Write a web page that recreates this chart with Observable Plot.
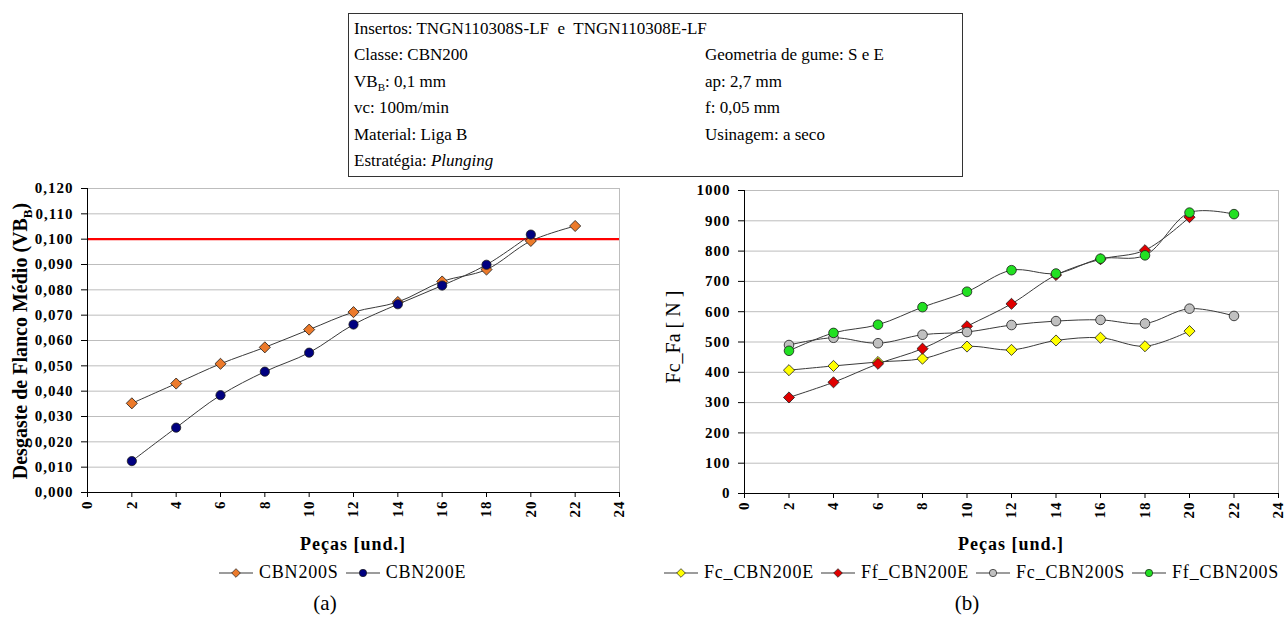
<!DOCTYPE html>
<html>
<head>
<meta charset="utf-8">
<script src="https://cdn.jsdelivr.net/npm/d3@7"></script>
<script src="https://cdn.jsdelivr.net/npm/@observablehq/plot@0.6"></script>
<style>
  html, body { margin: 0; padding: 0; background: #fff; }
  body { width: 1288px; height: 619px; position: relative; overflow: hidden;
         font-family: "Liberation Serif", "Times New Roman", serif; color: #000; }
  .abs { position: absolute; }
  #info { left: 348px; top: 13px; width: 615px; height: 164px; border: 1.5px solid #333;
          box-sizing: border-box; font-size: 17px; }
  #info .row { position: absolute; height: 26px; line-height: 26px; white-space: nowrap; }
  .ytitle { white-space: nowrap; transform: translate(-50%, -50%) rotate(-90deg); }
  .xtitle { white-space: nowrap; transform: translate(-50%, -50%); font-weight: bold;
            font-size: 18px; letter-spacing: 1px; }
  .legend { display: flex; align-items: center; font-size: 18px; letter-spacing: 0.8px; white-space: nowrap; }
  .legend .item { display: flex; align-items: center; margin-right: 6px; }
  .legend svg { margin-right: 5px; }
  .cap { font-size: 21px; transform: translate(-50%, -50%); }
  svg.chart text { font-family: "Liberation Serif", "Times New Roman", serif; }
</style>
</head>
<body>
<div id="info" class="abs"></div>
<div id="leftChart" class="abs" style="left:0px; top:170px;"></div>
<div id="rightChart" class="abs" style="left:640px; top:170px;"></div>
<div class="abs ytitle" style="left:22px; top:341px; font-weight:bold; font-size:20px;">Desgaste de Flanco Médio (VB<sub style="font-size:13px">B</sub>)</div>
<div class="abs ytitle" style="left:673px; top:337px; font-size:20px;">Fc_Fa [ N ]</div>
<div class="abs xtitle" style="left:353px; top:544px;">Peças [und.]</div>
<div class="abs xtitle" style="left:1011px; top:544px;">Peças [und.]</div>
<div id="legendA" class="abs legend" style="left:218px; top:562px;"></div>
<div id="legendB" class="abs legend" style="left:663px; top:562px;"></div>
<div class="abs cap" style="left:325px; top:603px;">(a)</div>
<div class="abs cap" style="left:967px; top:603px;">(b)</div>
<script>
// ---------- Data ----------
const pecasA = [2, 4, 6, 8, 10, 12, 14, 16, 18, 20, 22];
const cbn200S = [0.0352, 0.0430, 0.0508, 0.0573, 0.0643, 0.0712, 0.0752, 0.0833, 0.0880, 0.0993, 0.1052];
const pecasAE = [2, 4, 6, 8, 10, 12, 14, 16, 18, 20];
const cbn200E = [0.0124, 0.0256, 0.0384, 0.0477, 0.0552, 0.0663, 0.0743, 0.0817, 0.0899, 0.1018];
const limiteVB = 0.1;

const pecasB20 = [2, 4, 6, 8, 10, 12, 14, 16, 18, 20];
const pecasB22 = [2, 4, 6, 8, 10, 12, 14, 16, 18, 20, 22];
const fcCBN200E = [407, 421, 434, 445, 485, 474, 505, 514, 486, 536];
const ffCBN200E = [317, 367, 428, 478, 552, 626, 721, 773, 803, 912];
const fcCBN200S = [490, 514, 496, 524, 533, 556, 569, 573, 561, 610, 586];
const ffCBN200S = [471, 530, 557, 615, 666, 737, 726, 775, 786, 927, 922];

const xTicks = [0, 2, 4, 6, 8, 10, 12, 14, 16, 18, 20, 22, 24];
const yTicksA = [0, 0.01, 0.02, 0.03, 0.04, 0.05, 0.06, 0.07, 0.08, 0.09, 0.10, 0.11, 0.12];
const yTicksB = [0, 100, 200, 300, 400, 500, 600, 700, 800, 900, 1000];

const info = [
  ["Insertos: TNGN110308S-LF&nbsp; e&nbsp; TNGN110308E-LF", ""],
  ["Classe: CBN200", "Geometria de gume: S e E"],
  ["VB<sub style='font-size:11px'>B</sub>: 0,1 mm", "ap: 2,7 mm"],
  ["vc: 100m/min", "f: 0,05 mm"],
  ["Material: Liga B", "Usinagem: a seco"],
  ["Estratégia: <i>Plunging</i>", ""]
];

// ---------- Info box ----------
const infoBox = document.getElementById("info");
info.forEach(([a, b], i) => {
  const top = 2 + i * 26.4;
  const r1 = document.createElement("div");
  r1.className = "row"; r1.style.left = "5px"; r1.style.top = top + "px"; r1.innerHTML = a;
  infoBox.appendChild(r1);
  if (b) {
    const r2 = document.createElement("div");
    r2.className = "row"; r2.style.left = "356px"; r2.style.top = top + "px"; r2.innerHTML = b;
    infoBox.appendChild(r2);
  }
});

// ---------- Helpers ----------
const grid = "#bdbdbd";
const lineColor = "#3a3a3a";
const FONT = "Liberation Serif, Times New Roman, serif";
const styleStr = "font-family: 'Liberation Serif', 'Times New Roman', serif; font-size: 15px; font-weight: bold; color: #000; background: transparent; overflow: visible; letter-spacing: 1px;";
const tickText = {fontFamily: FONT, fontSize: 15, fontWeight: "bold"};
function series(xs, ys) { return xs.map((x, i) => ({x, y: ys[i]})); }
function seriesMarks(data, symbol, fill, r) {
  return [
    Plot.line(data, {x: "x", y: "y", curve: "catmull-rom", stroke: lineColor, strokeWidth: 1}),
    Plot.dot(data, {x: "x", y: "y", symbol, r, fill, stroke: "#1a1a1a", strokeWidth: 0.8})
  ];
}

// ---------- Chart (a) ----------
const fmtA = d => d.toFixed(3).replace(".", ",");
const dataS = series(pecasA, cbn200S);
const dataE = series(pecasAE, cbn200E);
const chartA = Plot.plot({
  className: "chart",
  width: 640, height: 390,
  marginLeft: 87, marginRight: 21, marginTop: 18, marginBottom: 68,
  style: styleStr,
  x: {domain: [0, 24]},
  y: {domain: [0, 0.12]},
  marks: [
    Plot.gridY(yTicksA, {stroke: grid, strokeOpacity: 1}),
    Plot.ruleX([24], {stroke: grid}),
    Plot.ruleY([limiteVB], {stroke: "#ff0000", strokeWidth: 2.2}),
    ...seriesMarks(dataS, "diamond2", "#ec7a2b", 5),
    ...seriesMarks(dataE, "circle", "#000080", 4.6),
    Plot.ruleX([0], {stroke: "#000"}),
    Plot.ruleY([0], {stroke: "#000"}),
    Plot.axisX(xTicks, {tickRotate: -90, tickSize: 5, tickPadding: 3, label: null, ...tickText}),
    Plot.axisY(yTicksA, {tickSize: 6, tickPadding: 8, tickFormat: fmtA, label: null, ...tickText})
  ]
});
chartA.classList.add("chart");
document.getElementById("leftChart").appendChild(chartA);

// ---------- Chart (b) ----------
const chartB = Plot.plot({
  className: "chart",
  width: 648, height: 390,
  marginLeft: 104, marginRight: 10, marginTop: 20, marginBottom: 67,
  style: styleStr,
  x: {domain: [0, 24]},
  y: {domain: [0, 1000]},
  marks: [
    Plot.gridY(yTicksB, {stroke: grid, strokeOpacity: 1}),
    Plot.ruleX([24], {stroke: grid}),
    ...seriesMarks(series(pecasB20, fcCBN200E), "diamond2", "#ffff00", 5),
    ...seriesMarks(series(pecasB20, ffCBN200E), "diamond2", "#e00000", 5),
    ...seriesMarks(series(pecasB22, fcCBN200S), "circle", "#c0c0c0", 4.8),
    ...seriesMarks(series(pecasB22, ffCBN200S), "circle", "#22e022", 4.8),
    Plot.ruleX([0], {stroke: "#000"}),
    Plot.ruleY([0], {stroke: "#000"}),
    Plot.axisX(xTicks, {tickRotate: -90, tickSize: 5, tickPadding: 3, label: null, ...tickText}),
    Plot.axisY(yTicksB, {tickSize: 6, tickPadding: 8, tickFormat: d => String(d), label: null, ...tickText})
  ]
});
chartB.classList.add("chart");
document.getElementById("rightChart").appendChild(chartB);

// ---------- Legends ----------
function addLegend(id, items) {
  const root = d3.select("#" + id);
  items.forEach(({name, symbol, fill}) => {
    const it = root.append("div").attr("class", "item");
    const svg = it.append("svg").attr("width", 36).attr("height", 16);
    svg.append("line").attr("x1", 1).attr("x2", 35).attr("y1", 8).attr("y2", 8)
      .attr("stroke", lineColor).attr("stroke-width", 1.2);
    const path = d3.symbol(symbol === "circle" ? d3.symbolCircle : d3.symbolDiamond2,
                           symbol === "circle" ? 42 : 48)();
    svg.append("path").attr("d", path).attr("transform", "translate(18,8)")
      .attr("fill", fill).attr("stroke", "#1a1a1a").attr("stroke-width", 0.7);
    it.append("span").text(name);
  });
}
addLegend("legendA", [
  {name: "CBN200S", symbol: "diamond", fill: "#ec7a2b"},
  {name: "CBN200E", symbol: "circle", fill: "#000080"}
]);
addLegend("legendB", [
  {name: "Fc_CBN200E", symbol: "diamond", fill: "#ffff00"},
  {name: "Ff_CBN200E", symbol: "diamond", fill: "#e00000"},
  {name: "Fc_CBN200S", symbol: "circle", fill: "#c0c0c0"},
  {name: "Ff_CBN200S", symbol: "circle", fill: "#22e022"}
]);
</script>
</body>
</html>
